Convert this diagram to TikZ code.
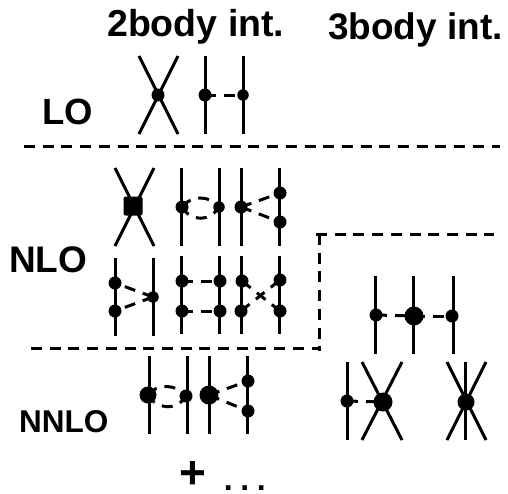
\documentclass[tikz,border=0pt]{standalone}
\usepackage{fontspec}
\setmainfont{Liberation Sans}
\tikzset{
  vtx/.style={circle,fill=black,inner sep=0pt,minimum size=13pt},
  vtxs/.style={circle,fill=black,inner sep=0pt,minimum size=11.5pt},
  vtxm/.style={circle,fill=black,inner sep=0pt,minimum size=17pt},
  vtxb/.style={circle,fill=black,inner sep=0pt,minimum size=19pt},
  vtxq/.style={rectangle,rounded corners=2pt,fill=black,inner sep=0pt,minimum size=19pt},
  leg/.style={line width=3pt,black},
  pot/.style={line width=3pt,black,dash pattern=on 11pt off 8pt},
  sep/.style={line width=3pt,black,dash pattern=on 11pt off 7.7pt},
  lab/.style={anchor=base west,inner sep=0pt,font=\bfseries\fontsize{#1}{#1}\selectfont}
}
\begin{document}
\begin{tikzpicture}[x=1pt,y=-1pt]
\useasboundingbox (0,0) rectangle (508,493);

%Marking labels
\node[lab=37.5] (twobody) at (107,36) {2body int.};
\node[lab=37] (threebody) at (328,39) {3body int.};
\node[lab=36.5] (lo) at (42,124) {LO};
\node[lab=37] (nlo) at (9,272) {NLO};
\node[lab=31.5] (nnlo) at (19,432) {NNLO};
\node[lab=46] (plus) at (179.6,488) {+};
\node[lab=32] (dots) at (223.6,490) {.\hspace{7.6pt}.\hspace{7.6pt}.};

%Marking separators
\coordinate (s1l) at (24,146);
\coordinate (s1r) at (500,146);
\coordinate (s2l) at (31,348);
\coordinate (s2r) at (318,348);
\coordinate (s3t) at (319,234);
\coordinate (s3b) at (319,351);
\coordinate (s4l) at (316,234);
\coordinate (s4r) at (494,234);

%Drawing separators
\draw[sep] (s1l) -- (s1r);
\draw[sep] (s2l) -- (s2r);
\draw[sep] (s3t) -- (s3b);
\draw[sep] (s4l) -- (s4r);

%Row 1, contact and one pion exchange
\node[vtx] (a) at (158,95) {};
\coordinate (a1) at (139,56); \coordinate (a2) at (178,134);
\coordinate (a3) at (178,56); \coordinate (a4) at (139,134);
\draw[leg] (a1) -- (a2);
\draw[leg] (a3) -- (a4);

\node[vtx] (b) at (205,95) {};
\node[vtxs] (c) at (243,95) {};
\coordinate (b1) at (205,56); \coordinate (b2) at (205,134);
\coordinate (c1) at (243,56); \coordinate (c2) at (243,134);
\draw[leg] (b1) -- (b2);
\draw[leg] (c1) -- (c2);
\draw[pot] (b.center) -- (c.center);

%Row 2, square contact and loops
\node[vtxq] (d) at (133,206) {};
\coordinate (d1) at (115,168); \coordinate (d2) at (154,246);
\coordinate (d3) at (154,168); \coordinate (d4) at (115,246);
\draw[leg] (d1) -- (d2);
\draw[leg] (d3) -- (d4);

\node[vtx] (e) at (182,207) {};
\node[vtxs] (f) at (219,207) {};
\coordinate (e1) at (181,168); \coordinate (e2) at (181,246);
\coordinate (f1) at (219,168); \coordinate (f2) at (219,246);
\draw[leg] (e1) -- (e2);
\draw[leg] (f1) -- (f2);
\draw[pot] (e.center) .. controls +(9,-12) and +(-9,-12) .. (f.center);
\draw[pot,dash phase=1pt] (e.center) .. controls +(9,15) and +(-9,15) .. (f.center);

\node[vtx] (g) at (241,207) {};
\node[vtx] (h) at (280,193) {};
\node[vtx] (i) at (280,222) {};
\coordinate (g1) at (241,168); \coordinate (g2) at (241,246);
\coordinate (h1) at (279,168); \coordinate (h2) at (279,246);
\draw[leg] (g1) -- (g2);
\draw[leg] (h1) -- (h2);
\draw[pot] (g.center) -- (h.center);
\draw[pot] (g.center) -- (i.center);

%Row 3, two pion exchange
\node[vtx] (j) at (115,283) {};
\node[vtx] (k) at (115,311) {};
\node[vtxs] (l) at (153,297) {};
\coordinate (j1) at (115,258); \coordinate (j2) at (115,336);
\coordinate (l1) at (153,258); \coordinate (l2) at (153,336);
\draw[leg] (j1) -- (j2);
\draw[leg] (l1) -- (l2);
\draw[pot] (l.center) -- (j.center);
\draw[pot] (l.center) -- (k.center);

\node[vtx] (m) at (182,281) {};
\node[vtx] (n) at (220,281) {};
\node[vtx] (o) at (182,311) {};
\node[vtx] (p) at (220,311) {};
\coordinate (m1) at (181,256); \coordinate (m2) at (181,334);
\coordinate (n1) at (219,256); \coordinate (n2) at (219,334);
\draw[leg] (m1) -- (m2);
\draw[leg] (n1) -- (n2);
\draw[pot] (m.center) -- (n.center);
\draw[pot] (o.center) -- (p.center);

\node[vtx] (q) at (242,281) {};
\node[vtx] (r) at (280,280) {};
\node[vtx] (s) at (241,311) {};
\node[vtx] (t) at (280,311) {};
\coordinate (q1) at (241,256); \coordinate (q2) at (241,334);
\coordinate (r1) at (279,256); \coordinate (r2) at (279,334);
\draw[leg] (q1) -- (q2);
\draw[leg] (r1) -- (r2);
\draw[pot] (q.center) -- (t.center);
\draw[pot] (s.center) -- (r.center);

%Row 4, NNLO loops
\node[vtxm] (u) at (148,395) {};
\node[vtx] (v) at (186,396) {};
\coordinate (u1) at (149,356); \coordinate (u2) at (149,434);
\coordinate (v1) at (187,356); \coordinate (v2) at (187,434);
\draw[leg] (u1) -- (u2);
\draw[leg] (v1) -- (v2);
\draw[pot] (u.center) .. controls +(9,-12) and +(-9,-12) .. (v.center);
\draw[pot,dash phase=1pt] (u.center) .. controls +(9,15) and +(-9,15) .. (v.center);

\node[vtxb] (w) at (209,395) {};
\node[vtx] (x) at (248,381) {};
\node[vtx] (y) at (248,411) {};
\coordinate (w1) at (209,356); \coordinate (w2) at (209,434);
\coordinate (x1) at (247,356); \coordinate (x2) at (247,434);
\draw[leg] (w1) -- (w2);
\draw[leg] (x1) -- (x2);
\draw[pot] (w.center) -- (x.center);
\draw[pot] (w.center) -- (y.center);

%Three body forces
\node[vtx] (aa) at (376,315) {};
\node[vtxb] (ab) at (414,316) {};
\node[vtx] (ac) at (452,316) {};
\coordinate (aa1) at (375,276); \coordinate (aa2) at (375,354);
\coordinate (ab1) at (413,276); \coordinate (ab2) at (413,354);
\coordinate (ac1) at (453,276); \coordinate (ac2) at (453,354);
\draw[leg] (aa1) -- (aa2);
\draw[leg] (ab1) -- (ab2);
\draw[leg] (ac1) -- (ac2);
\draw[pot] (aa.center) -- (ab.center);
\draw[pot] (ab.center) -- (ac.center);

\node[vtx] (ad) at (347,401) {};
\node[vtxb] (ae) at (383,402) {};
\coordinate (ad1) at (347,362); \coordinate (ad2) at (347,440);
\coordinate (ae1) at (362,362); \coordinate (ae2) at (402,440);
\coordinate (ae3) at (402,362); \coordinate (ae4) at (362,440);
\draw[leg] (ad1) -- (ad2);
\draw[leg] (ae1) -- (ae2);
\draw[leg] (ae3) -- (ae4);
\draw[pot] (ad.center) -- (ae.center);

\node[vtxm] (af) at (466,402) {};
\coordinate (af1) at (447,362); \coordinate (af2) at (486,440);
\coordinate (af3) at (486,362); \coordinate (af4) at (447,440);
\coordinate (af5) at (465,362); \coordinate (af6) at (465,440);
\draw[leg] (af1) -- (af2);
\draw[leg] (af3) -- (af4);
\draw[leg] (af5) -- (af6);
\end{tikzpicture}
\end{document}
